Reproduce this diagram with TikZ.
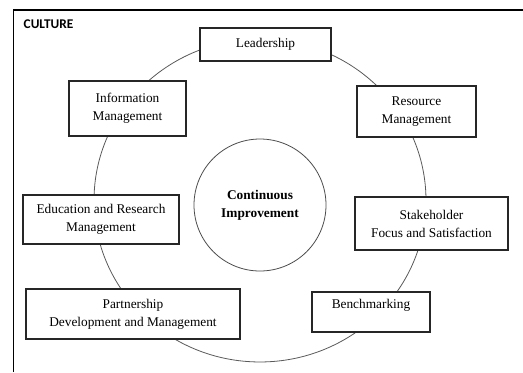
\documentclass[tikz,border=0pt]{standalone}
\usepackage{fontspec}
\setmainfont{Liberation Serif}
\newfontfamily\labelfont{Carlito}
\usetikzlibrary{shapes,positioning,calc}
\tikzstyle{block} = [draw=black!85, line width=0.8pt, fill=white, rectangle, align=center, font=\fontsize{10}{13.5}\selectfont]
\tikzstyle{hub} = [draw=black!70, line width=0.6pt, fill=white, circle, minimum size=99pt, align=center, font=\fontsize{10}{13.5}\selectfont\bfseries]
\tikzstyle{ring} = [draw=black!65, line width=0.6pt]

\begin{document}
\begin{tikzpicture}[x=0.75pt, y=-0.75pt]
    \useasboundingbox (0,0) rectangle (523,372);
    % Frame
    \draw [line width=1pt] (13.5,372) -- (13.5,10) -- (523,10);
    \node [anchor=west, font=\labelfont\bfseries\fontsize{10}{12}\selectfont] (culture) at (19,24) {CULTURE};

    % Ring
    \draw [ring] (260,200.5) ellipse [x radius=124.5pt, y radius=121.1pt];

    % Centre
    \node [hub] (ci) at (260,205) {Continuous\\Improvement};

    % Blocks
    \node [block, minimum width=98.25pt, minimum height=24.75pt] (leader) at (265.5,44.5) {Leadership};
    \node [block, minimum width=87.75pt, minimum height=41.25pt] (info) at (127.5,108.5) {Information\\Management};
    \node [block, minimum width=89.25pt, minimum height=38.25pt] (resource) at (416.5,111.5) {Resource\\Management};
    \node [block, minimum width=117pt, minimum height=36.75pt] (edu) at (101,219.5) {Education and Research\\Management};
    \node [block, minimum width=114.75pt, minimum height=39.75pt] (stake) at (431.5,223.5) {Stakeholder\\Focus and Satisfaction};
    \node [block, minimum width=160.5pt, minimum height=37.5pt] (partner) at (133,314) {Partnership\\Development and Management};
    \node [block, minimum width=88.5pt, minimum height=30pt, text depth=12pt] (bench) at (371,312) {Benchmarking};
\end{tikzpicture}
\end{document}
